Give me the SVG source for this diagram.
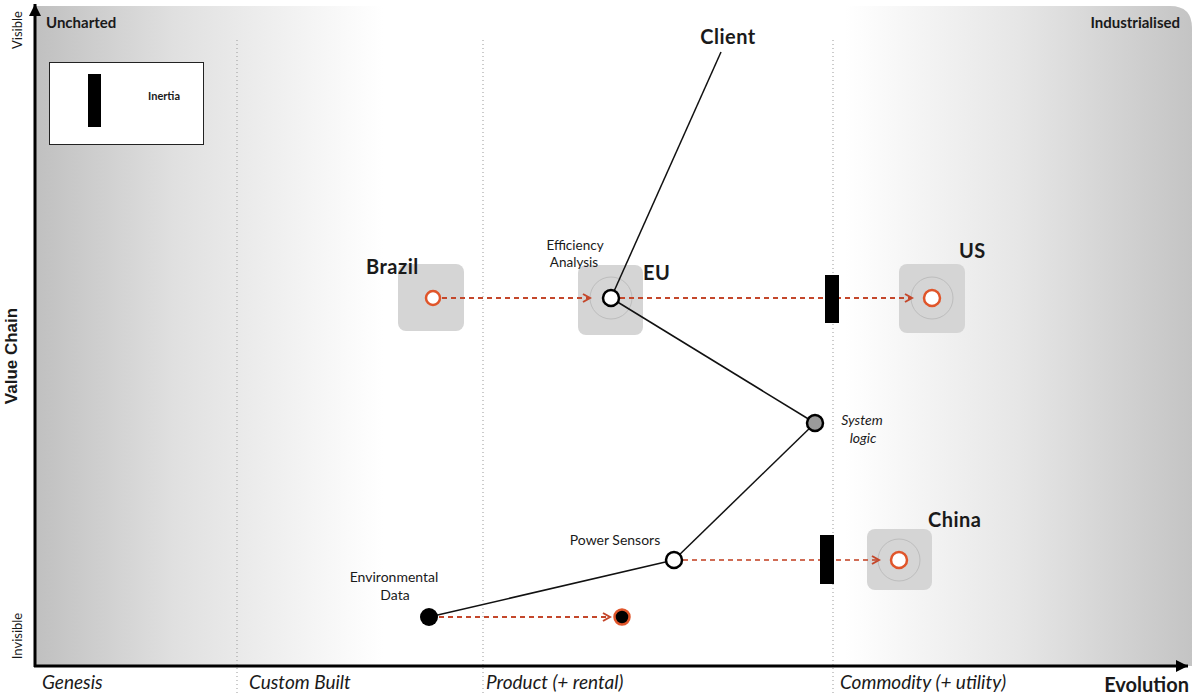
<svg xmlns="http://www.w3.org/2000/svg" width="1192" height="696" viewBox="0 0 1192 696">
<defs>
<linearGradient id="bg" x1="36" y1="0" x2="1192" y2="0" gradientUnits="userSpaceOnUse">
<stop offset="0" stop-color="#c0c0c0"/>
<stop offset="0.12" stop-color="#e0e0e0"/>
<stop offset="0.3" stop-color="#ffffff"/>
<stop offset="0.7" stop-color="#ffffff"/>
<stop offset="0.85" stop-color="#e6e6e6"/>
<stop offset="1" stop-color="#c4c4c4"/>
</linearGradient>
<marker id="ah" markerWidth="10" markerHeight="10" refX="8" refY="5" orient="auto" markerUnits="userSpaceOnUse">
<path d="M1,1 L8,5 L1,9" fill="none" stroke="#c4472b" stroke-width="2"/>
</marker>
<marker id="axh" markerWidth="14" markerHeight="14" refX="12" refY="7" orient="auto" markerUnits="userSpaceOnUse">
<path d="M0,1 L12,7 L0,13 Z" fill="#000"/>
</marker>
</defs>
<style>
text{font-family:Lato,"Open Sans","DejaVu Sans",sans-serif;fill:#1a1a1a}
.b{font-weight:bold}
.i{font-style:italic}
.nm{font-weight:bold;font-size:20px}
.lb{font-size:14px}
.ax{font-style:italic;font-size:19px}
.dot{stroke:#999;stroke-width:1;stroke-dasharray:1,3}
.tile{fill:#d5d5d5}
.halo{fill:none;stroke:#bdbdbd;stroke-width:1}
.link{stroke:#111;stroke-width:1.5;fill:none}
.move{stroke:#c4472b;stroke-width:2;stroke-dasharray:5,4;fill:none}
.orng{fill:#fff;stroke:#e0552a;stroke-width:2.5}
.blk{fill:#fff;stroke:#000;stroke-width:2.5}
.inert{fill:#000}
</style>
<rect x="36" y="6" width="1156" height="660" fill="url(#bg)"/>
<path d="M1170,6 Q1192,6 1192,28 L1192,6 Z" fill="#fff"/>
<g id="grid">
<line class="dot" x1="237" y1="40" x2="237" y2="696"/>
<line class="dot" x1="483" y1="40" x2="483" y2="696"/>
<line class="dot" x1="833" y1="40" x2="833" y2="696"/>
</g>
<g id="axes">
<line x1="35" y1="667" x2="35" y2="4" stroke="#000" stroke-width="3" marker-end="url(#axh)"/>
<line x1="34" y1="666" x2="1188" y2="666" stroke="#000" stroke-width="3" marker-end="url(#axh)"/>
<text class="b" x="46" y="28" font-size="15">Uncharted</text>
<text class="b" x="1180" y="28" font-size="15" text-anchor="end">Industrialised</text>
<text x="22" y="30" font-size="13" text-anchor="middle" transform="rotate(-90 22 30)">Visible</text>
<text x="22" y="636" font-size="13" text-anchor="middle" transform="rotate(-90 22 636)">Invisible</text>
<text x="17" y="356" font-size="17" font-weight="bold" text-anchor="middle" style="font-family:'Liberation Sans',Arial,sans-serif" transform="rotate(-90 17 356)">Value Chain</text>
<text class="ax" x="42" y="689">Genesis</text>
<text class="ax" x="249" y="689">Custom Built</text>
<text class="ax" x="486" y="689">Product (+ rental)</text>
<text class="ax" x="840" y="689">Commodity (+ utility)</text>
<text class="b" x="1189" y="692" font-size="20" text-anchor="end">Evolution</text>
</g>
<g id="legend">
<rect x="49.5" y="62.5" width="154" height="82" fill="#fff" stroke="#222" stroke-width="1"/>
<rect class="inert" x="88" y="74" width="13" height="53"/>
<text class="b" x="148" y="100" font-size="11">Inertia</text>
</g>
<g id="tiles">
<rect class="tile" x="398" y="264" width="66" height="67" rx="8"/>
<rect class="tile" x="578" y="265" width="65" height="70" rx="8"/>
<circle class="halo" cx="611" cy="298" r="21"/>
<rect class="tile" x="899" y="264" width="66" height="69" rx="8"/>
<circle class="halo" cx="932" cy="298" r="21"/>
<rect class="tile" x="867" y="529" width="65" height="61" rx="8"/>
<circle class="halo" cx="899" cy="560" r="21"/>
</g>
<g id="connectors">
<line class="link" x1="721" y1="52" x2="611" y2="298"/>
<line class="link" x1="611" y1="298" x2="815" y2="423"/>
<line class="link" x1="815" y1="423" x2="674" y2="560"/>
<line class="link" x1="429" y1="617" x2="674" y2="560"/>
<line class="move" x1="442" y1="298" x2="590" y2="298" marker-end="url(#ah)"/>
<line class="move" x1="620" y1="298" x2="912" y2="298" marker-end="url(#ah)"/>
<line class="move" x1="683" y1="560" x2="879" y2="560" marker-end="url(#ah)" stroke-opacity="0.8"/>
<line class="move" x1="439" y1="617" x2="610" y2="617" marker-end="url(#ah)"/>
<rect class="inert" x="825" y="275" width="14" height="48"/>
<rect class="inert" x="820" y="535" width="14" height="49"/>
</g>
<g id="client">
<text class="nm" x="728" y="44" text-anchor="middle" letter-spacing="0.5">Client</text>
</g>
<g id="brazil">
<circle class="orng" cx="433" cy="298" r="7"/>
<text class="nm" x="366" y="274" letter-spacing="0.5">Brazil</text>
</g>
<g id="eu">
<circle class="blk" cx="611" cy="298" r="8"/>
<text class="nm" x="643" y="280" letter-spacing="0.5">EU</text>
<text x="575" y="250" font-size="13.5" text-anchor="middle">Efficiency</text>
<text x="574" y="267" font-size="13.5" text-anchor="middle">Analysis</text>
</g>
<g id="us">
<circle class="orng" cx="932" cy="298" r="8"/>
<text class="nm" x="959" y="258" letter-spacing="0.5">US</text>
</g>
<g id="system-logic">
<circle cx="815" cy="423" r="8" fill="#9a9a9a" stroke="#000" stroke-width="2.5"/>
<text class="i lb" x="862" y="425" text-anchor="middle">System</text>
<text class="i lb" x="863" y="443" text-anchor="middle">logic</text>
</g>
<g id="power-sensors">
<circle class="blk" cx="674" cy="560" r="8"/>
<text class="lb" x="615" y="545" text-anchor="middle" font-size="14.5">Power Sensors</text>
</g>
<g id="china">
<circle class="orng" cx="899" cy="560" r="8"/>
<text class="nm" x="928" y="527" letter-spacing="0.5">China</text>
</g>
<g id="environmental-data">
<circle cx="429" cy="617" r="9" fill="#000"/>
<text class="lb" x="394" y="582" text-anchor="middle" font-size="14.5">Environmental</text>
<text class="lb" x="395" y="600" text-anchor="middle" font-size="14.5">Data</text>
</g>
<g id="env-target">
<circle cx="622" cy="617" r="7.5" fill="#000" stroke="#e0552a" stroke-width="2.5"/>
</g>
</svg>
